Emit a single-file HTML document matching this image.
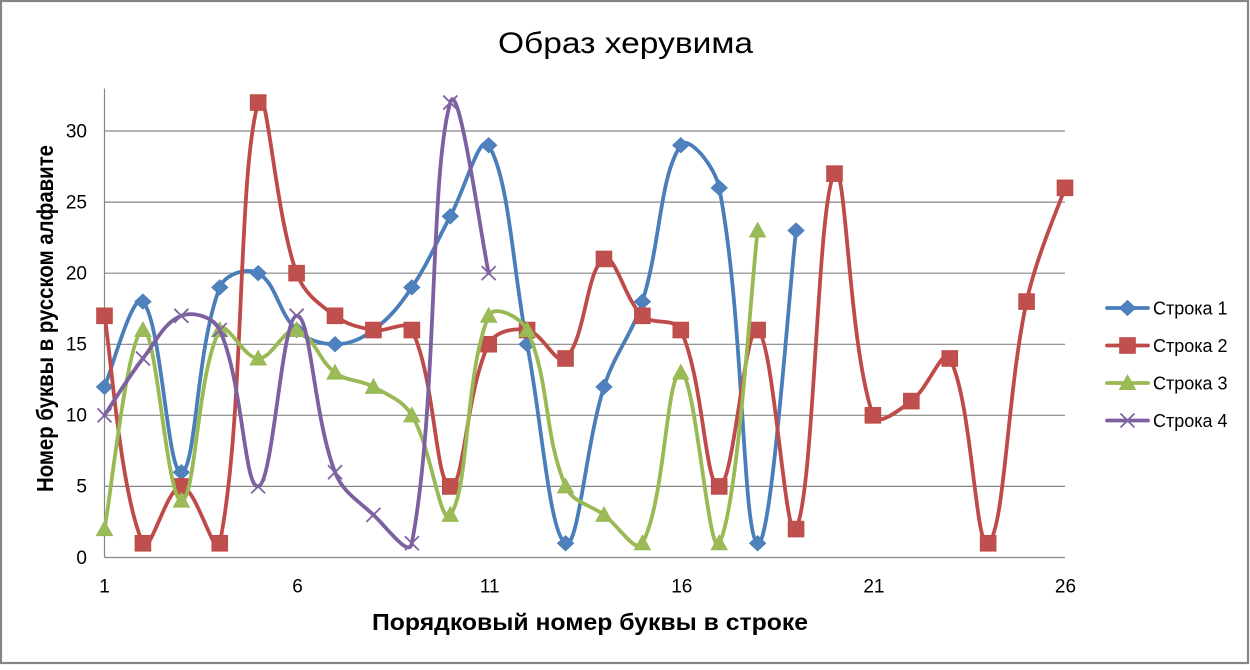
<!DOCTYPE html>
<html>
<head>
<meta charset="utf-8">
<style>
  html, body { margin:0; padding:0; background:#fff; }
  body { width:1250px; height:665px; overflow:hidden; }
  svg text { font-family: "Liberation Sans", "DejaVu Sans", sans-serif; fill:#000; }
</style>
</head>
<body>
<svg id="chart" width="1250" height="665" viewBox="0 0 1250 665" xmlns="http://www.w3.org/2000/svg">
  <rect x="0" y="0" width="1250" height="665" fill="#fff"/>
  <rect x="1" y="1" width="1247" height="662" fill="none" stroke="#868686" stroke-width="2.2"/>

  <!-- gridlines -->
  <g stroke="#868686" stroke-width="1.2">
    <line x1="104.5" y1="131" x2="1065" y2="131"/>
    <line x1="104.5" y1="202.1" x2="1065" y2="202.1"/>
    <line x1="104.5" y1="273.2" x2="1065" y2="273.2"/>
    <line x1="104.5" y1="344.3" x2="1065" y2="344.3"/>
    <line x1="104.5" y1="415.3" x2="1065" y2="415.3"/>
    <line x1="104.5" y1="486.4" x2="1065" y2="486.4"/>
    <line x1="104.5" y1="557.5" x2="1065" y2="557.5"/>
    <line x1="104.5" y1="88.5" x2="104.5" y2="557.5"/>
  </g>

  <!-- title -->
  <text x="498" y="53" font-size="30" textLength="255" lengthAdjust="spacingAndGlyphs">Образ херувима</text>

  <!-- y tick labels -->
  <g font-size="19" text-anchor="end">
    <text x="87" y="137.5">30</text>
    <text x="87" y="208.5">25</text>
    <text x="87" y="279.5">20</text>
    <text x="87" y="350.5">15</text>
    <text x="87" y="421.5">10</text>
    <text x="87" y="492.5">5</text>
    <text x="87" y="564">0</text>
  </g>
  <!-- x tick labels -->
  <g font-size="19" text-anchor="middle">
    <text x="104.5" y="592.5">1</text>
    <text x="297.6" y="592.5">6</text>
    <text x="489.7" y="592.5">11</text>
    <text x="681.8" y="592.5">16</text>
    <text x="873.9" y="592.5">21</text>
    <text x="1065.5" y="592.5">26</text>
  </g>

  <!-- axis titles -->
  <text x="372" y="630" font-size="23" font-weight="bold" textLength="436" lengthAdjust="spacingAndGlyphs">Порядковый номер буквы в строке</text>
  <text transform="translate(53,318.5) rotate(-90)" text-anchor="middle" font-size="23" font-weight="bold" textLength="347" lengthAdjust="spacingAndGlyphs">Номер буквы в русском алфавите</text>

  <g id="series"></g>

  <!-- legend -->
  <g id="legend"></g>
  <g font-size="18">
    <text x="1153" y="314.5">Строка 1</text>
    <text x="1153" y="352">Строка 2</text>
    <text x="1153" y="389.5">Строка 3</text>
    <text x="1153" y="427">Строка 4</text>
  </g>
</svg>
<script>
(function(){
  var NS = "http://www.w3.org/2000/svg";
  function X(i){ return 104.5 + (i-1)*38.42; }
  function Y(v){ return 557.5 - v*14.217; }
  var series = [
    {line:"#4A7EBB", fill:"#4F81BD", m:"diamond",
     v:[12,18,6,19,20,16,15,16,19,24,29,15,1,12,18,29,26,1,23]},
    {line:"#BE4B48", fill:"#C0504D", m:"square",
     v:[17,1,5,1,32,20,17,16,16,5,15,16,14,21,17,16,5,16,2,27,10,11,14,1,18,26]},
    {line:"#98B954", fill:"#9BBB59", m:"triangle",
     v:[2,16,4,16,14,16,13,12,10,3,17,16,5,3,1,13,1,23]},
    {line:"#7D60A0", fill:"#8064A2", m:"x",
     v:[10,14,17,16,5,17,6,3,1,32,20]}
  ];
  var g = document.getElementById("series");
  var lg = document.getElementById("legend");
  function el(name, attrs, parent){
    var e = document.createElementNS(NS, name);
    for (var k in attrs) e.setAttribute(k, attrs[k]);
    parent.appendChild(e); return e;
  }
  function marker(type, x, y, s, parent){
    if (type === "diamond") {
      el("polygon", {points:(x)+","+(y-7.5)+" "+(x+8)+","+y+" "+x+","+(y+7.5)+" "+(x-8)+","+y,
        fill:s.fill, stroke:s.line, "stroke-width":"1"}, parent);
    } else if (type === "square") {
      el("rect", {x:x-7.8, y:y-7.8, width:15.6, height:15.6, fill:s.fill, stroke:s.line, "stroke-width":"1"}, parent);
    } else if (type === "triangle") {
      el("polygon", {points:x+","+(y-8)+" "+(x+8)+","+(y+6.5)+" "+(x-8)+","+(y+6.5),
        fill:s.fill, stroke:s.line, "stroke-width":"1"}, parent);
    } else {
      var d = 7;
      el("path", {d:"M"+(x-d)+","+(y-d)+"L"+(x+d)+","+(y+d)+"M"+(x-d)+","+(y+d)+"L"+(x+d)+","+(y-d),
        stroke:s.fill, "stroke-width":"1.8", fill:"none"}, parent);
    }
  }
  function dist(a,b){ var dx=a[0]-b[0], dy=a[1]-b[1]; return Math.sqrt(dx*dx+dy*dy); }
  series.forEach(function(s){
    var p = s.v.map(function(v,i){ return [X(i+1), Y(v)]; });
    var d = "M"+p[0][0].toFixed(2)+","+p[0][1].toFixed(2);
    var t = 0.38;
    for (var i=0;i<p.length-1;i++){
      var p0 = p[i-1]||p[i], p1=p[i], p2=p[i+1], p3=p[i+2]||p[i+1];
      var d01 = dist(p0,p1), d12 = dist(p1,p2), d23 = dist(p2,p3);
      var f1 = (d01+d12)>0 ? t*d12/(d01+d12) : 0;
      var f2 = (d12+d23)>0 ? t*d12/(d12+d23) : 0;
      if (!p[i-1]) f1 = 1/6;
      if (!p[i+2]) f2 = 1/6;
      var c1x = p1[0]+(p2[0]-p0[0])*f1, c1y = p1[1]+(p2[1]-p0[1])*f1;
      var c2x = p2[0]-(p3[0]-p1[0])*f2, c2y = p2[1]-(p3[1]-p1[1])*f2;
      d += "C"+c1x.toFixed(2)+","+c1y.toFixed(2)+" "+c2x.toFixed(2)+","+c2y.toFixed(2)+" "+p2[0].toFixed(2)+","+p2[1].toFixed(2);
    }
    el("path", {d:d, fill:"none", stroke:s.line, "stroke-width":"3.8", "stroke-linecap":"round", "stroke-linejoin":"round"}, g);
    p.forEach(function(pt){ marker(s.m, pt[0], pt[1], s, g); });
  });
  var ly = [308, 345.5, 383, 420.5];
  series.forEach(function(s, k){
    el("line", {x1:1107, y1:ly[k], x2:1148, y2:ly[k], stroke:s.line, "stroke-width":"3.8", "stroke-linecap":"round"}, lg);
    marker(s.m, 1127.5, ly[k], s, lg);
  });
})();
</script>
</body>
</html>
